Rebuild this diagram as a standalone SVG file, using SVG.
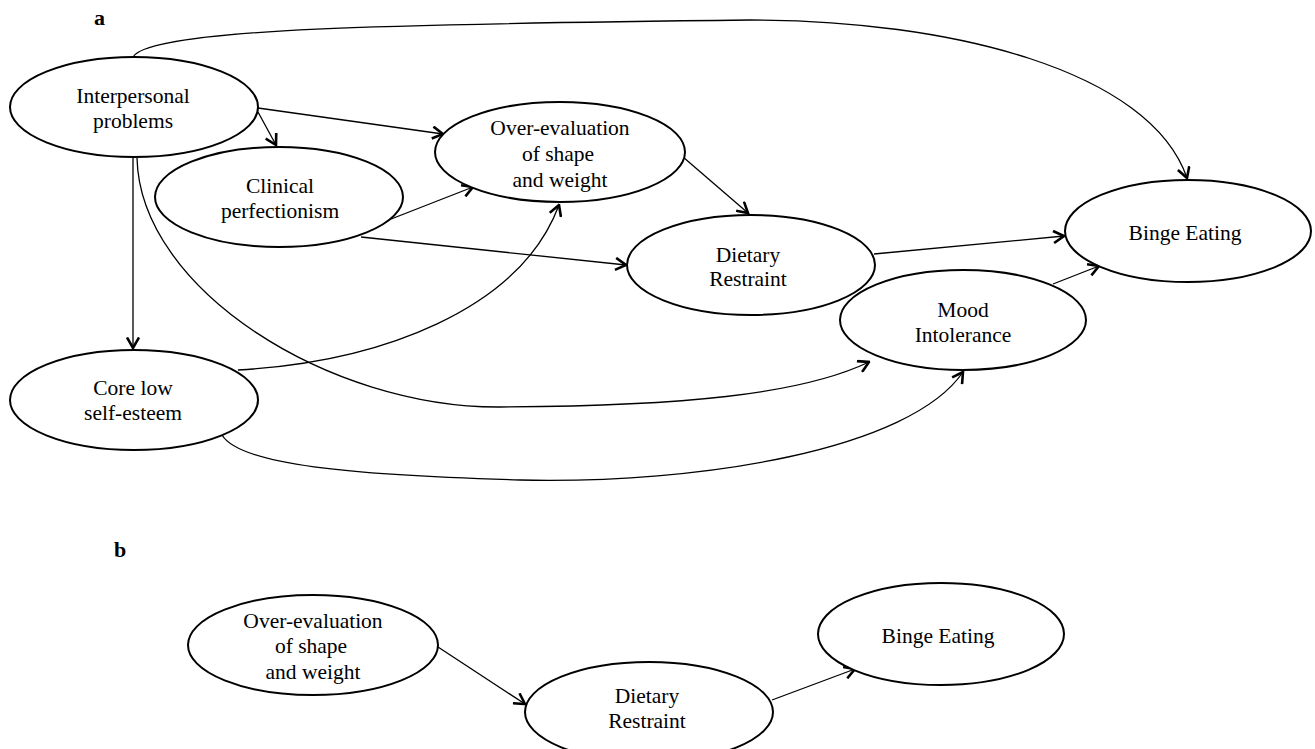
<svg xmlns="http://www.w3.org/2000/svg" width="1315" height="749" viewBox="0 0 1315 749">
<defs>
<marker id="arr" viewBox="0 0 13 14" markerWidth="13" markerHeight="14" refX="11.5" refY="7" orient="auto" markerUnits="userSpaceOnUse">
<path d="M1,1 L11.5,7 L1,13" fill="none" stroke="#000" stroke-width="2.6"/>
</marker>
</defs>
<style>
ellipse{fill:#fff;stroke:#000;stroke-width:2}
text{font-family:"Liberation Serif","Times New Roman",serif;font-size:21.5px;fill:#000;text-anchor:middle}
.lbl{font-weight:bold;text-anchor:start;font-size:22px}
.c{fill:none;stroke:#000;stroke-width:1.3;marker-end:url(#arr)}
</style>
<rect width="1315" height="749" fill="#fff"/>
<text class="lbl" x="94" y="25">a</text>
<text class="lbl" x="114" y="557">b</text>
<g id="connectors">
<path class="c" d="M133,57 C150,28 400,24 750,20 C950,20 1150,70 1187,178"/>
<path class="c" d="M258,108 L443,134"/>
<path class="c" d="M258,112 L276,145"/>
<path class="c" d="M133,158 L133,348"/>
<path class="c" d="M137,158 C140,290 330,408 500,407 C680,406 800,395 869,362"/>
<path class="c" d="M386,221 L473,187"/>
<path class="c" d="M361,237 L626,265"/>
<path class="c" d="M683,157 L748,213"/>
<path class="c" d="M238,370 C380,362 520,310 559,205"/>
<path class="c" d="M222,435 C240,465 350,475 520,480 C700,484 910,450 963,372"/>
<path class="c" d="M874,254 L1064,236"/>
<path class="c" d="M1053,284 L1099,266"/>
<path class="c" d="M438,647 L525,704"/>
<path class="c" d="M772,700 L855,669"/>
</g>
<g id="interpersonal"><ellipse cx="134" cy="107" rx="124" ry="50"/><text x="133" y="103">Interpersonal</text><text x="133" y="128">problems</text></g>
<g id="clinical"><ellipse cx="279" cy="197" rx="124" ry="50"/><text x="280" y="193">Clinical</text><text x="280" y="218">perfectionism</text></g>
<g id="overeval"><ellipse cx="560" cy="152" rx="125" ry="50"/><text x="560" y="135">Over-evaluation</text><text x="558" y="161">of shape</text><text x="560" y="187">and weight</text></g>
<g id="dietary"><ellipse cx="751" cy="265" rx="124" ry="50"/><text x="748" y="262">Dietary</text><text x="748" y="286">Restraint</text></g>
<g id="binge"><ellipse cx="1188" cy="231" rx="123" ry="51"/><text x="1185" y="240">Binge Eating</text></g>
<g id="mood"><ellipse cx="963" cy="320" rx="123" ry="50"/><text x="963" y="317">Mood</text><text x="963" y="342">Intolerance</text></g>
<g id="corelow"><ellipse cx="134" cy="400" rx="124" ry="50"/><text x="133" y="395">Core low</text><text x="133" y="420">self-esteem</text></g>
<g id="b-overeval"><ellipse cx="313" cy="645" rx="125" ry="50"/><text x="313" y="628">Over-evaluation</text><text x="311" y="653">of shape</text><text x="313" y="679">and weight</text></g>
<g id="b-dietary"><ellipse cx="649" cy="712" rx="124" ry="50"/><text x="647" y="703">Dietary</text><text x="647" y="728">Restraint</text></g>
<g id="b-binge"><ellipse cx="941" cy="634" rx="123" ry="51"/><text x="938" y="643">Binge Eating</text></g>
</svg>
